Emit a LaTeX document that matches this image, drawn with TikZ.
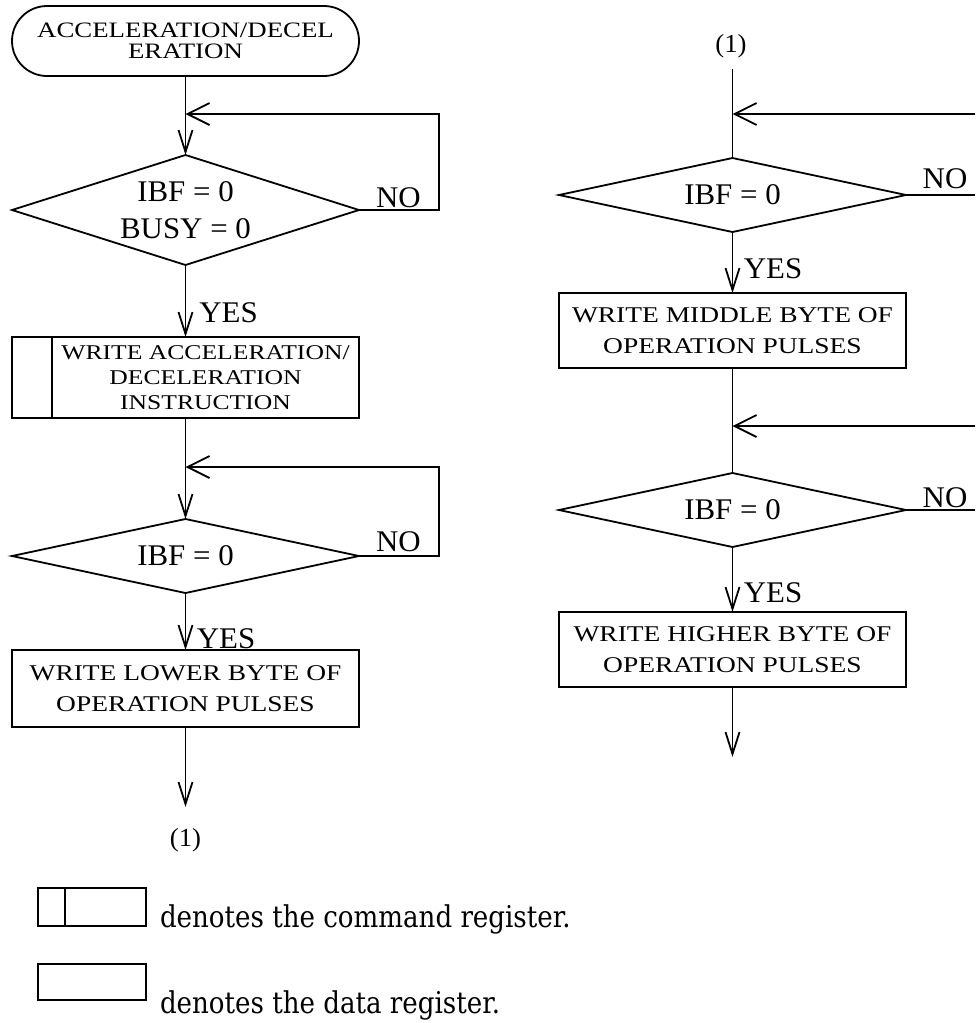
\documentclass[tikz,border=0pt]{standalone}
\usepackage{fontspec}
\setmainfont{Liberation Serif}
\newfontfamily\chartfont[FakeStretch=1.22]{Liberation Serif}
\newfontfamily\flagfont[FakeStretch=1.03]{Liberation Serif}
\newfontfamily\notefont[FakeStretch=0.87]{DejaVu Serif}
\usetikzlibrary{shapes.geometric,arrows.meta}

\begin{document}
\begin{tikzpicture}[x=1pt,y=-1pt,
  line width=1.8pt,
  every node/.style={inner sep=0pt, outer sep=0pt},
  terminal/.style={draw, rectangle, rounded corners=35pt, minimum width=347pt,
    minimum height=70pt, align=center, font=\chartfont\fontsize{22}{21}\selectfont},
  decision/.style={draw, diamond, aspect=4.69, minimum width=347pt,
    minimum height=74pt, align=center, font=\flagfont\fontsize{30}{37}\selectfont},
  process/.style={draw, rectangle, minimum width=347pt, minimum height=75pt,
    align=center, font=\chartfont\fontsize{22.5}{31}\selectfont},
  cmdbody/.style={draw, rectangle, minimum width=307pt, minimum height=81pt,
    align=center, font=\chartfont\fontsize{21}{25}\selectfont},
  cmdtag/.style={draw, rectangle, minimum width=40pt, minimum height=81pt},
  flag/.style={anchor=base, font=\flagfont\fontsize{30}{30}\selectfont},
  conn/.style={font=\flagfont\fontsize{26}{30}\selectfont},
  note/.style={anchor=base west, font=\notefont\fontsize{30}{36}\selectfont},
  down/.style={-{Straight Barb[length=22pt,width=14pt]}},
  back/.style={-{Straight Barb[length=22pt,width=22pt]}}
]
\useasboundingbox (0,0) rectangle (975,1023);

% ---- first column: command and lower byte ----
\node[terminal] (start) at (185.5,41) {ACCELERATION/DECEL\\ERATION};
\node[decision, aspect=3.15, minimum height=110pt] (d1) at (185.5,210) {IBF = 0\\BUSY = 0};
\node[cmdbody] (c1) at (205.5,377.5) {WRITE ACCELERATION/\\DECELERATION\\INSTRUCTION};
\node[cmdtag, anchor=east] (c1tag) at (c1.west) {};
\node[decision] (d2) at (185.5,556) {IBF = 0};
\node[process, minimum height=77pt] (p1) at (185.5,688.5) {WRITE LOWER BYTE OF\\OPERATION PULSES};
\coordinate (out1) at (185.5,807);
\node[conn] (lab1) at (185.5,840) {(1)};
\coordinate (j1) at (185.5,114);
\coordinate (j2) at (185.5,467);

\draw[down] (start.south) -- (d1.north);
\draw[back] (d1.east) -- ++(80,0) |- (j1);
\draw[down] (d1.south) -- (d1.south |- c1.north);
\draw[down] (d1.south |- c1.south) -- (d2.north);
\draw[back] (d2.east) -- ++(80,0) |- (j2);
\draw[down] (d2.south) -- (p1.north);
\draw[down] (p1.south) -- (out1);

\node[flag] (no1) at (398.5,207) {NO};
\node[flag] (yes1) at (228.5,322) {YES};
\node[flag] (no2) at (398.5,551) {NO};
\node[flag] (yes2) at (226,648) {YES};

% ---- second column: middle and higher byte ----
\node[conn] (lab2) at (731,46.5) {(1)};
\coordinate (in2) at (732.5,69);
\node[decision] (d3) at (732.5,195) {IBF = 0};
\node[process] (p2) at (732.5,330.5) {WRITE MIDDLE BYTE OF\\OPERATION PULSES};
\node[decision] (d4) at (732.5,510) {IBF = 0};
\node[process] (p3) at (732.5,649.5) {WRITE HIGHER BYTE OF\\OPERATION PULSES};
\coordinate (out2) at (732.5,757);
\coordinate (j3) at (732.5,114);
\coordinate (j4) at (732.5,426);
\coordinate (e1) at (975,195);
\coordinate (e1r) at (975,114);
\coordinate (e2) at (975,510);
\coordinate (e2r) at (975,426);

\draw (in2) -- (d3.north);
\draw[back] (e1r) -- (j3);
\draw (d3.east) -- (e1);
\draw[down] (d3.south) -- (p2.north);
\draw (p2.south) -- (d4.north);
\draw[back] (e2r) -- (j4);
\draw (d4.east) -- (e2);
\draw[down] (d4.south) -- (p3.north);
\draw[down] (p3.south) -- (out2);

\node[flag] (no3) at (945,188) {NO};
\node[flag] (yes3) at (773,278) {YES};
\node[flag] (no4) at (945,507) {NO};
\node[flag] (yes4) at (773,602) {YES};

% ---- legend ----
\node[draw, rectangle, minimum width=81pt, minimum height=38pt] (k1) at (105.5,907) {};
\node[draw, rectangle, minimum width=27pt, minimum height=38pt, anchor=east] (k1tag) at (k1.west) {};
\node[note] (k1text) at (160,927) {denotes the command register.};
\node[draw, rectangle, minimum width=108pt, minimum height=36pt] (k2) at (92,982) {};
\node[note] (k2text) at (160,1013) {denotes the data register.};
\end{tikzpicture}
\end{document}
